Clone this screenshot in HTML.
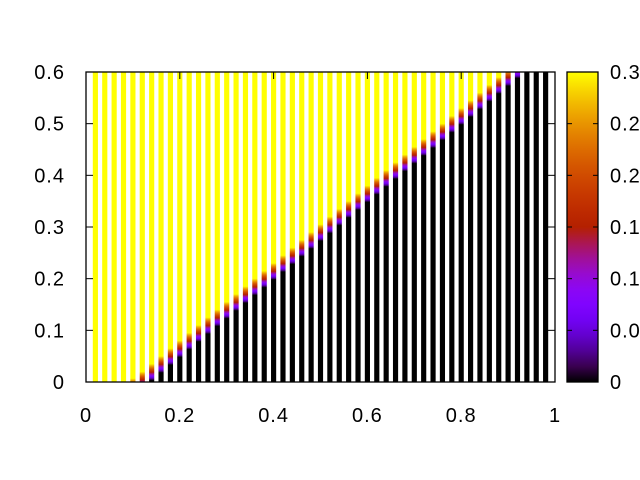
<!DOCTYPE html>
<html><head><meta charset="utf-8"><style>
html,body{margin:0;padding:0;background:#fff;width:640px;height:480px;overflow:hidden}
svg{display:block}
text{font-family:"Liberation Sans",sans-serif;font-size:20px;letter-spacing:1px;fill:#000}
</style></head><body>
<svg id="chart" width="640" height="480" viewBox="0 0 640 480" xmlns="http://www.w3.org/2000/svg">
<defs id="defs"></defs>
<g id="stripes"></g>
<g id="axes"></g>
<g id="cbar"></g>
</svg>
<script>
// data
const stripeX = [0.02,0.04,0.06,0.08,0.10,0.12,0.14,0.16,0.18,0.20,0.22,0.24,0.26,0.28,0.30,0.32,0.34,0.36,0.38,0.40,0.42,0.44,0.46,0.48,0.50,0.52,0.54,0.56,0.58,0.60,0.62,0.64,0.66,0.68,0.70,0.72,0.74,0.76,0.78,0.80,0.82,0.84,0.86,0.88,0.90,0.92,0.94,0.96,0.98];
const boundaryY = [-0.085,-0.07,-0.055,-0.04,-0.025,-0.012,0.003,0.018,0.033,0.048,0.063,0.078,0.093,0.108,0.123,0.138,0.153,0.168,0.183,0.198,0.213,0.228,0.243,0.258,0.273,0.288,0.303,0.318,0.333,0.348,0.363,0.378,0.393,0.408,0.423,0.438,0.453,0.468,0.483,0.498,0.513,0.528,0.543,0.558,0.573,0.588,0.603,0.618,0.633];
const xTicks = [0,0.2,0.4,0.6,0.8,1];
const xTickLabels = ["0","0.2","0.4","0.6","0.8","1"];
const yTicks = [0,0.1,0.2,0.3,0.4,0.5,0.6];
const yTickLabels = ["0","0.1","0.2","0.3","0.4","0.5","0.6"];
const cbTicks = [0,0.05,0.1,0.15,0.2,0.25,0.3];
const cbTickLabels = ["0","0.05","0.1","0.15","0.2","0.25","0.3"];
const zMax = 0.3;

const L=86,R=555,T=72,B=382,XMAX=1,YMAX=0.6;
const sx=v=>L+(v/XMAX)*(R-L);
const sy=v=>B-(v/YMAX)*(B-T);
const NS="http://www.w3.org/2000/svg";
function mk(tag,attrs,parent){const e=document.createElementNS(NS,tag);for(const k in attrs)e.setAttribute(k,attrs[k]);parent.appendChild(e);return e;}
function pal(t){t=Math.max(0,Math.min(1,t));const r=Math.sqrt(t),g=t*t*t,b=Math.max(0,Math.sin(2*Math.PI*t));return `rgb(${Math.round(r*255)},${Math.round(g*255)},${Math.round(b*255)})`;}
const defs=document.getElementById('defs');
const sg=document.getElementById('stripes');
const trans=0.032;
const halfW=0.0055;
stripeX.forEach((x,i)=>{
  const b=boundaryY[i];
  const id='g'+i;
  const grad=mk('linearGradient',{id:id,gradientUnits:'userSpaceOnUse',x1:0,x2:0,y1:sy(b),y2:sy(b+trans)},defs);
  for(let s=0;s<=10;s++){mk('stop',{offset:s/10,'stop-color':pal(s/10)},grad);}
  const r=mk('rect',{x:sx(x-halfW),y:T,width:sx(2*halfW)-L,height:B-T,fill:`url(#${id})`},sg);
  
  
});
const ax=document.getElementById('axes');
const frame=mk('rect',{x:L,y:T,width:R-L,height:B-T,fill:'none',stroke:'#000','stroke-width':1.3},ax);


xTicks.forEach((v,i)=>{
  const X=sx(v);
  mk('line',{x1:X,x2:X,y1:B,y2:B-7,stroke:'#000'},ax);
  mk('line',{x1:X,x2:X,y1:T,y2:T+7,stroke:'#000'},ax);
  const t=mk('text',{x:X,y:B+40,'text-anchor':'middle'},ax);t.textContent=xTickLabels[i];
  
  
});
yTicks.forEach((v,i)=>{
  const Y=sy(v);
  mk('line',{x1:L,x2:L+7,y1:Y,y2:Y,stroke:'#000'},ax);
  mk('line',{x1:R,x2:R-7,y1:Y,y2:Y,stroke:'#000'},ax);
  const t=mk('text',{x:65,y:Y+7,'text-anchor':'end'},ax);t.textContent=yTickLabels[i];
  
  
});
const cb=document.getElementById('cbar');
const CL=567,CR=598;
const cg=mk('linearGradient',{id:'cbg',x1:0,x2:0,y1:1,y2:0},defs);
for(let s=0;s<=20;s++){mk('stop',{offset:s/20,'stop-color':pal(s/20)},cg);}
const cbr=mk('rect',{x:CL,y:T,width:CR-CL,height:B-T,fill:'url(#cbg)',stroke:'#000','stroke-width':1.3},cb);


const cy=v=>B-(v/zMax)*(B-T);
cbTicks.forEach((v,i)=>{
  const Y=cy(v);
  mk('line',{x1:CL,x2:CL+5,y1:Y,y2:Y,stroke:'#000'},cb);
  mk('line',{x1:CR,x2:CR-5,y1:Y,y2:Y,stroke:'#000'},cb);
  const t=mk('text',{x:610,y:Y+7},cb);t.textContent=cbTickLabels[i];
  
  
});
</script>
</body></html>
